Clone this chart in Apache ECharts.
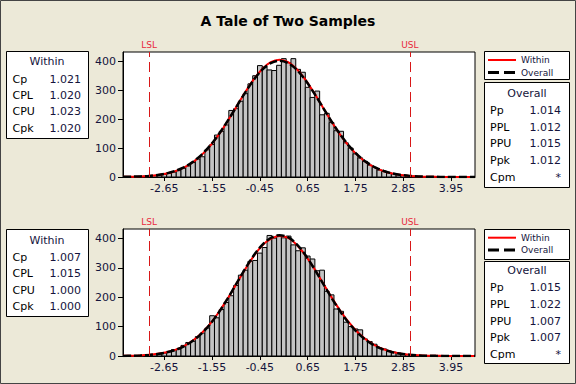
<!DOCTYPE html>
<html><head><meta charset="utf-8">
<script src="https://cdn.jsdelivr.net/npm/echarts@6/dist/echarts.min.js"></script>
<style>html,body{margin:0;padding:0;background:#ECE9D8;}#c{width:576px;height:384px;}</style>
</head><body><div id="c"></div>
<script>
// ---------- data ----------
const chartTitle = 'A Tale of Two Samples';
const LSL = -3, USL = 3;
const binWidth = 0.11;
const binCenters = [-3.53,-3.42,-3.31,-3.20,-3.09,-2.98,-2.87,-2.76,-2.65,-2.54,-2.43,-2.32,-2.21,-2.10,-1.99,-1.88,-1.77,-1.66,-1.55,-1.44,-1.33,-1.22,-1.11,-1.00,-0.89,-0.78,-0.67,-0.56,-0.45,-0.34,-0.23,-0.12,-0.01,0.10,0.21,0.32,0.43,0.54,0.65,0.76,0.87,0.98,1.09,1.20,1.31,1.42,1.53,1.64,1.75,1.86,1.97,2.08,2.19,2.30,2.41,2.52,2.63,2.74,2.85,2.96,3.07,3.18,3.29,3.40,3.51,3.62];
const topCounts = [1,1,1,2,3,4,5,8,9,15,17,22,30,38,50,62,70,94,112,145,158,180,230,236,262,288,322,350,385,380,370,368,386,409,395,409,372,362,310,275,297,215,220,188,160,158,118,100,80,66,54,41,33,24,20,15,11,8,6,4,3,2,1,1,1,0];
const bottomCounts = [0,1,1,2,3,4,5,7,10,16,22,24,36,46,50,66,78,95,137,130,158,182,205,240,275,292,322,325,350,369,410,401,410,402,408,378,358,368,340,330,290,292,220,208,160,152,115,100,92,89,58,49,40,28,24,16,13,10,7,5,4,2,2,1,1,0];
const curveX = [-3.6,-3.4,-3.2,-3.0,-2.8,-2.6,-2.4,-2.2,-2.0,-1.8,-1.6,-1.4,-1.2,-1.0,-0.8,-0.6,-0.4,-0.2,0,0.2,0.4,0.6,0.8,1.0,1.2,1.4,1.6,1.8,2.0,2.2,2.4,2.6,2.8,3.0,3.2,3.4,3.6,3.8,4.0,4.2,4.4,4.5];
const topWithinCurve = [0.5,1.0,1.9,3.7,6.8,11.9,20.1,32.4,50.3,74.7,106.6,145.7,191.2,240.4,290.1,335.7,372.6,396.6,405,396.6,372.6,335.7,290.1,240.4,191.2,145.7,106.6,74.7,50.3,32.4,20.1,11.9,6.8,3.7,1.9,1.0,0.5,0.2,0.1,0,0,0];
const topOverallCurve = [0.5,1.1,2.1,3.9,7.1,12.4,20.8,33.3,51.4,75.9,107.7,146.7,191.7,240.4,289.2,334.1,370.2,393.8,402,393.8,370.2,334.1,289.2,240.4,191.7,146.7,107.7,75.9,51.4,33.3,20.8,12.4,7.1,3.9,2.1,1.1,0.5,0.2,0.1,0,0,0];
const bottomWithinCurve = [0.5,1.1,2.1,4.0,7.3,12.6,21.0,33.7,51.8,76.5,108.4,147.9,193.4,242.8,292.4,338.1,375.2,398.0,408,401.5,377.5,341.5,297.5,248.5,199.5,154,114,81,55.5,36.5,23,13.8,8.0,4.4,2.4,1.2,0.6,0.3,0.1,0,0,0];
const bottomOverallCurve = [0.4,1.0,1.9,3.7,6.8,12.0,20.2,32.7,50.8,75.5,107.5,147.3,193.5,243.6,294,340,377.5,401.5,411,404,380,343,297,247.2,197.5,151.5,111.5,78.5,53.3,34.6,21.6,13,7.5,4.2,2.2,1.1,0.5,0.2,0.1,0,0,0];
const xTickValues = [-2.65,-1.55,-0.45,0.65,1.75,2.85,3.95];
const yTickValues = [0,100,200,300,400];
const withinLabels = ['Cp','CPL','CPU','Cpk'];
const overallLabels = ['Pp','PPL','PPU','Ppk','Cpm'];
const topWithinValues = ['1.021','1.020','1.023','1.020'];
const topOverallValues = ['1.014','1.012','1.015','1.012','*'];
const bottomWithinValues = ['1.007','1.015','1.000','1.000'];
const bottomOverallValues = ['1.015','1.022','1.007','1.007','*'];
const legendNames = ['Within','Overall'];

// ---------- chart ----------
const FONT = 'DejaVu Sans';
const TXT = '#14143c';
const chart = echarts.init(document.getElementById('c'), null, {renderer:'svg'});

function histItem(params, api){
  const c = api.value(0), h = api.value(1);
  if (!h) return null;
  const p0 = api.coord([c - binWidth/2, h]);
  const p1 = api.coord([c + binWidth/2, 0]);
  return {type:'rect', shape:{x:p0[0], y:p0[1], width:p1[0]-p0[0], height:p1[1]-p0[1]},
    style:{fill:'#c4c4c4', stroke:'#000', lineWidth:1}};
}
function pairs(xs, ys){ return xs.map((x,i)=>[x, ys[i]]); }

const grids = [
  {left:123, top:52, width:352, height:125, show:true, backgroundColor:'#fff', borderColor:'#000', borderWidth:1},
  {left:123, top:229, width:352, height:127, show:true, backgroundColor:'#fff', borderColor:'#000', borderWidth:1}
];
function xAxisCfg(i){
  return {type:'value', gridIndex:i, min:-3.6, max:4.5, splitLine:{show:false},
    axisLine:{onZero:false, lineStyle:{color:'#000'}},
    axisTick:{customValues:xTickValues, length:4, lineStyle:{color:'#000'}},
    axisLabel:{customValues:xTickValues, formatter:v=>Number(v).toFixed(2), color:TXT, fontSize:11, fontFamily:FONT, margin:6}};
}
function yAxisCfg(i){
  return {type:'value', gridIndex:i, min:0, max:432, splitLine:{show:false},
    axisLine:{show:true, onZero:false, lineStyle:{color:'#000'}},
    axisTick:{show:true, customValues:yTickValues, length:5, lineStyle:{color:'#000'}},
    axisLabel:{customValues:yTickValues, color:TXT, fontSize:11, fontFamily:FONT, margin:7}};
}
function seriesFor(i, counts, wCurve, oCurve){
  return [
    {type:'custom', xAxisIndex:i, yAxisIndex:i, renderItem:histItem, encode:{x:0,y:1}, data:pairs(binCenters, counts), z:2},
    {type:'line', xAxisIndex:i, yAxisIndex:i, data:pairs(curveX, wCurve), smooth:0.3, symbol:'none', z:3,
      lineStyle:{color:'#ff0000', width:2},
      markLine:{silent:true, symbol:['none','none'], animation:false,
        lineStyle:{color:'#d81818', type:[10,5], width:1},
        label:{show:true, position:'end', formatter:p=>p.name, color:'#e8283c', fontSize:9, fontFamily:FONT, distance:3},
        data:[{name:'LSL', xAxis:LSL},{name:'USL', xAxis:USL}]}},
    {type:'line', xAxisIndex:i, yAxisIndex:i, data:pairs(curveX, oCurve), smooth:0.3, symbol:'none', z:4,
      lineStyle:{color:'#000', width:2.5, type:[8,3]}}
  ];
}

const g = [];
g.push({type:'rect', shape:{x:0.5,y:0.5,width:575,height:383}, style:{fill:'none', stroke:'#444', lineWidth:1}, z:100});
function txt(x, y, text, align, size, color){
  g.push({type:'text', x:x, y:y, style:{text:text, align:align, verticalAlign:'middle', fontSize:size, fontFamily:FONT, fill:color||TXT}, z:20});
}
function statBox(r, title, titleY, labels, values, rowYs, labelX, valueX, titleX){
  g.push({type:'rect', shape:r, style:{fill:'#fff', stroke:'#000', lineWidth:1}, z:10});
  txt(titleX, titleY, title, 'center', 11);
  labels.forEach((l,k)=>{ txt(labelX, rowYs[k], l, 'left', 11, '#000'); txt(valueX, rowYs[k], values[k], 'right', 11); });
}
function legendBox(r, y1, y2){
  g.push({type:'rect', shape:r, style:{fill:'#fff', stroke:'#000', lineWidth:1}, z:10});
  g.push({type:'line', shape:{x1:488, y1:y1, x2:516, y2:y1}, style:{stroke:'#ff0000', lineWidth:2}, z:20});
  g.push({type:'line', shape:{x1:488, y1:y2, x2:516, y2:y2}, style:{stroke:'#000', lineWidth:3, lineDash:[11,5]}, z:20});
  txt(521, y1, legendNames[0], 'left', 9);
  txt(521, y2, legendNames[1], 'left', 9);
}
// top panel boxes
statBox({x:6.5,y:51.5,width:82,height:87}, 'Within', 61.8, withinLabels, topWithinValues, [79.3,95.6,111.9,128.2], 12.5, 81, 47);
legendBox({x:484.5,y:51.5,width:85,height:28}, 60, 72.5);
statBox({x:484.5,y:82.5,width:85,height:105}, 'Overall', 93.5, overallLabels, topOverallValues, [110.7,127.3,143.9,160.5,177.1], 490, 561, 527);
// bottom panel boxes
statBox({x:6.5,y:229.5,width:82,height:87}, 'Within', 240, withinLabels, bottomWithinValues, [257.3,273.8,290.2,306.7], 12.5, 81, 47);
legendBox({x:484.5,y:229.5,width:85,height:30}, 237.7, 250);
statBox({x:484.5,y:261.5,width:85,height:102}, 'Overall', 270.5, overallLabels, bottomOverallValues, [287.5,304.3,321.1,337.9,354.7], 490, 561, 527);

chart.setOption({
  animation:false,
  backgroundColor:'#ECE9D8',
  title:{text:chartTitle, left:'center', top:9, textStyle:{fontSize:14, fontWeight:'bold', fontFamily:FONT, color:'#000'}},
  grid:grids,
  xAxis:[xAxisCfg(0), xAxisCfg(1)],
  yAxis:[yAxisCfg(0), yAxisCfg(1)],
  series:[].concat(seriesFor(0, topCounts, topWithinCurve, topOverallCurve), seriesFor(1, bottomCounts, bottomWithinCurve, bottomOverallCurve)),
  graphic:g
});
</script></body></html>
